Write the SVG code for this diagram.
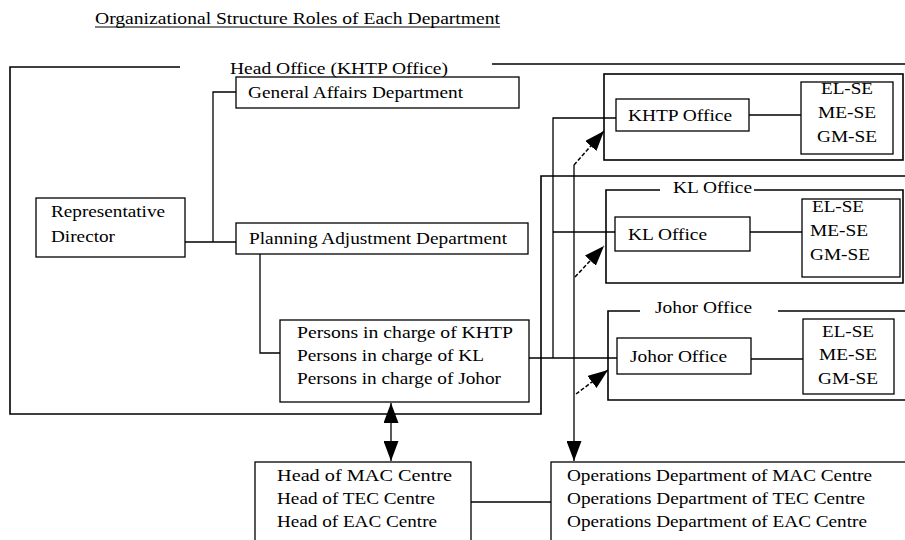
<svg xmlns="http://www.w3.org/2000/svg" width="905" height="540" viewBox="0 0 905 540">
  <style>
    text { font-family: "Liberation Serif", "Times New Roman", serif; font-size: 17px; fill: #000; }
    .box { fill: none; stroke: #000; stroke-width: 1.3; }
    .frame { fill: none; stroke: #000; stroke-width: 1.6; }
    .wire { fill: none; stroke: #000; stroke-width: 1.3; }
    .dash { fill: none; stroke: #000; stroke-width: 1.5; stroke-dasharray: 4 2; }
  </style>
  <defs>
    <marker id="head" viewBox="0 0 20 15" refX="20" refY="7.5" markerWidth="20" markerHeight="15" markerUnits="userSpaceOnUse" orient="auto-start-reverse">
      <path d="M0,0 L20,7.5 L0,15 Z" fill="#000"/>
    </marker>
  </defs>
  <rect width="905" height="540" fill="#fff"/>

  <!-- title -->
  <g id="title">
    <text x="95" y="24" textLength="405" lengthAdjust="spacingAndGlyphs">Organizational Structure Roles of Each Department</text>
    <line x1="95" y1="27" x2="500" y2="27" stroke="#000" stroke-width="1"/>
  </g>

  <!-- head office frame -->
  <g id="head-office">
    <path class="frame" d="M180,67 H10 V414 H541 V176 H905"/>
    <path class="frame" d="M492,64 H905"/>
    <text x="230" y="74" textLength="218" lengthAdjust="spacingAndGlyphs">Head Office (KHTP Office)</text>
  </g>

  <g id="general-affairs">
    <rect class="box" x="236" y="77" width="283" height="31"/>
    <text x="248" y="98" textLength="215" lengthAdjust="spacingAndGlyphs">General Affairs Department</text>
  </g>

  <g id="representative-director">
    <rect class="box" x="36" y="198" width="149" height="59"/>
    <text x="51" y="217" textLength="114" lengthAdjust="spacingAndGlyphs">Representative</text>
    <text x="51" y="242" textLength="64" lengthAdjust="spacingAndGlyphs">Director</text>
  </g>

  <g id="planning-adjustment">
    <rect class="box" x="236" y="223" width="292" height="31"/>
    <text x="249" y="244" textLength="258" lengthAdjust="spacingAndGlyphs">Planning Adjustment Department</text>
  </g>

  <g id="persons-in-charge">
    <rect class="box" x="280" y="320" width="249" height="82"/>
    <text x="297" y="338" textLength="216" lengthAdjust="spacingAndGlyphs">Persons in charge of KHTP</text>
    <text x="297" y="361" textLength="187" lengthAdjust="spacingAndGlyphs">Persons in charge of KL</text>
    <text x="297" y="384" textLength="204" lengthAdjust="spacingAndGlyphs">Persons in charge of Johor</text>
  </g>

  <!-- KHTP office -->
  <g id="khtp-office">
    <rect class="frame" x="604" y="74" width="299" height="86"/>
    <rect class="box" x="616" y="99" width="133" height="32"/>
    <text x="628" y="121" textLength="104" lengthAdjust="spacingAndGlyphs">KHTP Office</text>
    <rect class="box" x="801" y="82" width="92" height="72"/>
    <text x="821" y="94" textLength="52" lengthAdjust="spacingAndGlyphs">EL-SE</text>
    <text x="818" y="118" textLength="58" lengthAdjust="spacingAndGlyphs">ME-SE</text>
    <text x="817" y="142" textLength="60" lengthAdjust="spacingAndGlyphs">GM-SE</text>
  </g>

  <!-- KL office -->
  <g id="kl-office">
    <path class="frame" d="M660,190 H606 V283 H903 V190 H754"/>
    <text x="673" y="193" textLength="79" lengthAdjust="spacingAndGlyphs">KL Office</text>
    <rect class="box" x="615" y="217" width="135" height="34"/>
    <text x="628" y="240" textLength="79" lengthAdjust="spacingAndGlyphs">KL Office</text>
    <rect class="box" x="802" y="199" width="98" height="78"/>
    <text x="812" y="212" textLength="52" lengthAdjust="spacingAndGlyphs">EL-SE</text>
    <text x="810" y="236" textLength="58" lengthAdjust="spacingAndGlyphs">ME-SE</text>
    <text x="810" y="260" textLength="60" lengthAdjust="spacingAndGlyphs">GM-SE</text>
  </g>

  <!-- Johor office -->
  <g id="johor-office">
    <path class="frame" d="M640,311 H608 V400 H905"/>
    <path class="frame" d="M778,311 H905"/>
    <text x="655" y="313" textLength="97" lengthAdjust="spacingAndGlyphs">Johor Office</text>
    <rect class="box" x="617" y="338" width="134" height="36"/>
    <text x="630" y="362" textLength="97" lengthAdjust="spacingAndGlyphs">Johor Office</text>
    <rect class="box" x="803" y="319" width="91" height="75"/>
    <text x="822" y="337" textLength="52" lengthAdjust="spacingAndGlyphs">EL-SE</text>
    <text x="819" y="360" textLength="58" lengthAdjust="spacingAndGlyphs">ME-SE</text>
    <text x="818" y="384" textLength="60" lengthAdjust="spacingAndGlyphs">GM-SE</text>
  </g>

  <g id="centre-heads">
    <rect class="box" x="255" y="462" width="216" height="90"/>
    <text x="277" y="481" textLength="175" lengthAdjust="spacingAndGlyphs">Head of MAC Centre</text>
    <text x="277" y="504" textLength="158" lengthAdjust="spacingAndGlyphs">Head of TEC Centre</text>
    <text x="277" y="527" textLength="160" lengthAdjust="spacingAndGlyphs">Head of EAC Centre</text>
  </g>

  <g id="centre-operations">
    <rect class="box" x="551" y="462" width="370" height="90"/>
    <text x="567" y="481" textLength="305" lengthAdjust="spacingAndGlyphs">Operations Department of MAC Centre</text>
    <text x="567" y="504" textLength="298" lengthAdjust="spacingAndGlyphs">Operations Department of TEC Centre</text>
    <text x="567" y="527" textLength="300" lengthAdjust="spacingAndGlyphs">Operations Department of EAC Centre</text>
  </g>

  <!-- connectors -->
  <g id="connectors">
    <path class="wire" d="M236,92 H213 V242"/>
    <path class="wire" d="M185,242 H236"/>
    <path class="wire" d="M260,254 V353 H280"/>
    <path class="wire" d="M529,358 H617"/>
    <path class="wire" d="M553,358 V118 H616"/>
    <path class="wire" d="M553,232 H615"/>
    <path class="wire" d="M749,115 H801"/>
    <path class="wire" d="M750,232 H802"/>
    <path class="wire" d="M751,359 H803"/>
    <path class="wire" d="M471,502 H551"/>
    <!-- offices to centre operations -->
    <path class="wire" d="M574,165 V461" marker-end="url(#head)"/>
    <path class="dash" d="M574,165 L604,131" marker-end="url(#head)"/>
    <path class="dash" d="M575,277 L604,246" marker-end="url(#head)"/>
    <path class="dash" d="M576,394 L608,370" marker-end="url(#head)"/>
    <!-- persons in charge to centre heads -->
    <path class="wire" d="M391,403 V461" marker-start="url(#head)" marker-end="url(#head)"/>
  </g>
</svg>
